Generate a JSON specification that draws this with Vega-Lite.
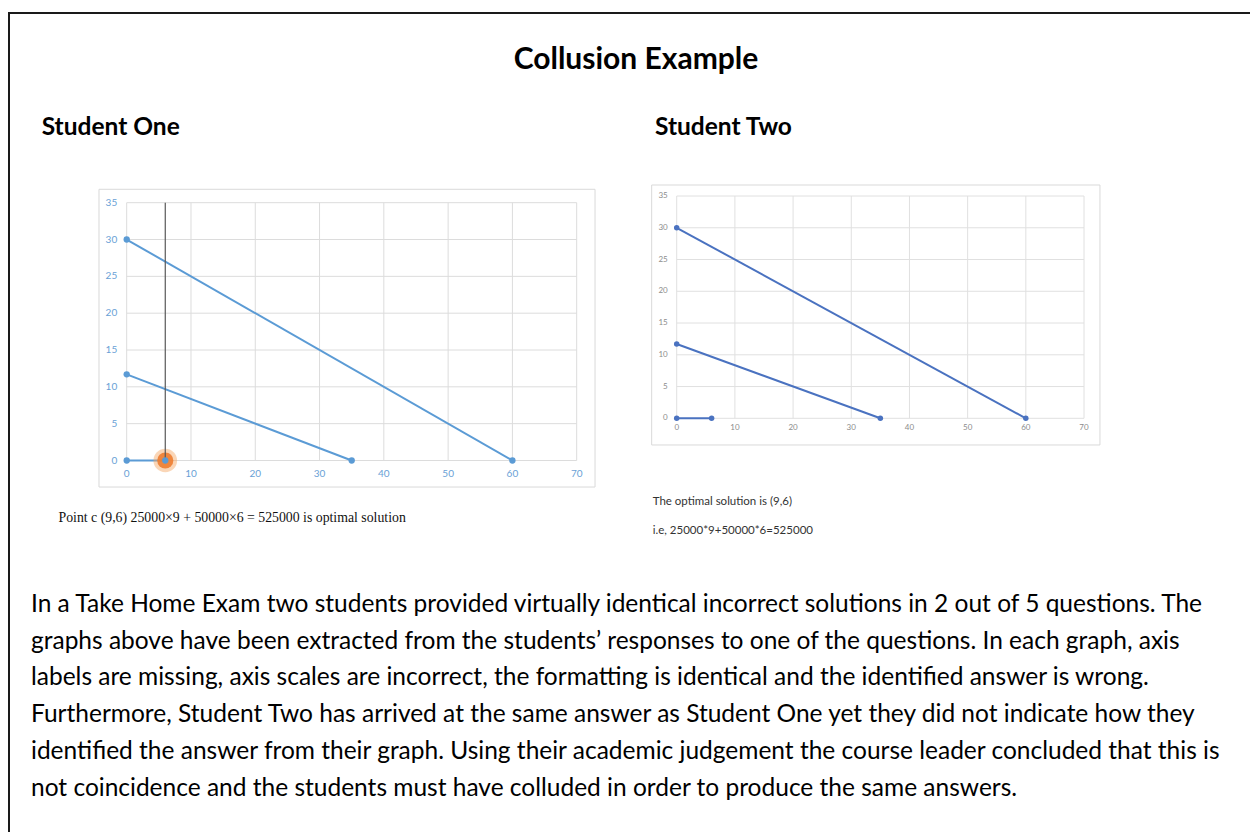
{
  "$schema": "https://vega.github.io/schema/vega-lite/v6.json",
  "width": 1244,
  "height": 822,
  "autosize": {"type": "none"},
  "padding": {"left": 9, "top": 13, "right": -3, "bottom": -3},
  "background": "white",
  "config": {"view": {"stroke": "#1a1a1a", "strokeWidth": 2}, "font": "Lato"},
  "datasets": {
    "s1": [
      {"series": "A", "x": 0, "y": 30}, {"series": "A", "x": 60, "y": 0},
      {"series": "B", "x": 0, "y": 11.7}, {"series": "B", "x": 35, "y": 0},
      {"series": "C", "x": 0, "y": 0}, {"series": "C", "x": 6, "y": 0}
    ],
    "s2": [
      {"series": "A", "x": 0, "y": 30}, {"series": "A", "x": 60, "y": 0},
      {"series": "B", "x": 0, "y": 11.7}, {"series": "B", "x": 35, "y": 0},
      {"series": "C", "x": 0, "y": 0}, {"series": "C", "x": 6, "y": 0}
    ],
    "xticks": [{"v": 0}, {"v": 10}, {"v": 20}, {"v": 30}, {"v": 40}, {"v": 50}, {"v": 60}, {"v": 70}],
    "yticks": [{"v": 0}, {"v": 5}, {"v": 10}, {"v": 15}, {"v": 20}, {"v": 25}, {"v": 30}, {"v": 35}],
    "marker": [{"x": 6, "y": 0}],
    "para": [
      {"line": 1, "text": "In a Take Home Exam two students provided virtually identical incorrect solutions in 2 out of 5 questions. The"},
      {"line": 2, "text": "graphs above have been extracted from the students’ responses to one of the questions.  In each graph, axis"},
      {"line": 3, "text": "labels are missing, axis scales are incorrect, the formatting is identical and the identified answer is wrong."},
      {"line": 4, "text": "Furthermore, Student Two has arrived at the same answer as Student One yet they did not indicate how they"},
      {"line": 5, "text": "identified the answer from their graph. Using their academic judgement the course leader concluded that this is"},
      {"line": 6, "text": "not coincidence and the students must have colluded in order to produce the same answers."}
    ]
  },
  "layer": [
    {
      "layer": [
        {
          "data": {"values": [{"part": "chart area"}]},
          "mark": {"type": "rect", "fill": "white", "stroke": "#d9d9d9", "strokeWidth": 1},
          "encoding": {
            "x": {"datum": -4.31, "type": "quantitative", "scale": {"domain": [0, 70], "range": [117.7, 567.7], "nice": false, "zero": false}, "axis": null},
            "x2": {"datum": 72.85},
            "y": {"datum": -3.6, "type": "quantitative", "scale": {"domain": [0, 35], "range": [447.5, 189.7], "nice": false, "zero": false}, "axis": null},
            "y2": {"datum": 36.82}
          }
        },
        {
          "data": {"name": "xticks"},
          "mark": {"type": "rule", "color": "#dcdcdc", "strokeWidth": 1},
          "encoding": {
            "x": {"field": "v", "type": "quantitative", "axis": null},
            "y": {"datum": 0, "type": "quantitative", "axis": null},
            "y2": {"datum": 35}
          }
        },
        {
          "data": {"name": "yticks"},
          "mark": {"type": "rule", "color": "#dcdcdc", "strokeWidth": 1},
          "encoding": {
            "y": {"field": "v", "type": "quantitative", "axis": null},
            "x": {"datum": 0, "type": "quantitative", "axis": null},
            "x2": {"datum": 70}
          }
        },
        {
          "data": {"name": "xticks"},
          "mark": {"type": "text", "color": "#6a9fd6", "fontSize": 10, "dy": 13.5, "baseline": "middle", "align": "center"},
          "encoding": {
            "x": {"field": "v", "type": "quantitative", "axis": null},
            "y": {"datum": 0, "type": "quantitative", "axis": null},
            "text": {"field": "v", "type": "quantitative"}
          }
        },
        {
          "data": {"name": "yticks"},
          "mark": {"type": "text", "color": "#6a9fd6", "fontSize": 10, "dx": -9.5, "baseline": "middle", "align": "right"},
          "encoding": {
            "y": {"field": "v", "type": "quantitative", "axis": null},
            "x": {"datum": 0, "type": "quantitative", "axis": null},
            "text": {"field": "v", "type": "quantitative"}
          }
        },
        {
          "data": {"name": "s1"},
          "mark": {"type": "line", "color": "#5b9bd5", "strokeWidth": 2},
          "encoding": {
            "x": {"field": "x", "type": "quantitative", "axis": null},
            "y": {"field": "y", "type": "quantitative", "axis": null},
            "detail": {"field": "series"}
          }
        },
        {
          "data": {"name": "marker"},
          "mark": {"type": "circle", "color": "#f4a460", "opacity": 0.45, "size": 560},
          "encoding": {
            "x": {"field": "x", "type": "quantitative", "axis": null},
            "y": {"field": "y", "type": "quantitative", "axis": null}
          }
        },
        {
          "data": {"name": "marker"},
          "mark": {"type": "circle", "color": "#ed7d31", "opacity": 0.9, "size": 260},
          "encoding": {
            "x": {"field": "x", "type": "quantitative", "axis": null},
            "y": {"field": "y", "type": "quantitative", "axis": null}
          }
        },
        {
          "data": {"name": "marker"},
          "mark": {"type": "rule", "color": "#595959", "strokeWidth": 1.2},
          "encoding": {
            "x": {"field": "x", "type": "quantitative", "axis": null},
            "y": {"datum": 0, "type": "quantitative", "axis": null},
            "y2": {"datum": 35}
          }
        },
        {
          "data": {"name": "s1"},
          "mark": {"type": "circle", "color": "#5b9bd5", "opacity": 1, "size": 40},
          "encoding": {
            "x": {"field": "x", "type": "quantitative", "axis": null},
            "y": {"field": "y", "type": "quantitative", "axis": null}
          }
        }
      ]
    },
    {
      "layer": [
        {
          "data": {"values": [{"part": "chart area"}]},
          "mark": {"type": "rect", "fill": "white", "stroke": "#d9d9d9", "strokeWidth": 1},
          "encoding": {
            "x": {"datum": -4.3, "type": "quantitative", "scale": {"domain": [0, 70], "range": [667.7, 1075], "nice": false, "zero": false}, "axis": null},
            "x2": {"datum": 72.74},
            "y": {"datum": -4.2, "type": "quantitative", "scale": {"domain": [0, 35], "range": [405.3, 183], "nice": false, "zero": false}, "axis": null},
            "y2": {"datum": 36.73}
          }
        },
        {
          "data": {"name": "xticks"},
          "mark": {"type": "rule", "color": "#e0e0e0", "strokeWidth": 1},
          "encoding": {
            "x": {"field": "v", "type": "quantitative", "axis": null},
            "y": {"datum": 0, "type": "quantitative", "axis": null},
            "y2": {"datum": 35}
          }
        },
        {
          "data": {"name": "yticks"},
          "mark": {"type": "rule", "color": "#e0e0e0", "strokeWidth": 1},
          "encoding": {
            "y": {"field": "v", "type": "quantitative", "axis": null},
            "x": {"datum": 0, "type": "quantitative", "axis": null},
            "x2": {"datum": 70}
          }
        },
        {
          "data": {"name": "xticks"},
          "mark": {"type": "text", "color": "#8c8c8c", "fontSize": 8, "dy": 10, "baseline": "middle", "align": "center"},
          "encoding": {
            "x": {"field": "v", "type": "quantitative", "axis": null},
            "y": {"datum": 0, "type": "quantitative", "axis": null},
            "text": {"field": "v", "type": "quantitative"}
          }
        },
        {
          "data": {"name": "yticks"},
          "mark": {"type": "text", "color": "#8c8c8c", "fontSize": 8, "dx": -9, "baseline": "middle", "align": "right"},
          "encoding": {
            "y": {"field": "v", "type": "quantitative", "axis": null},
            "x": {"datum": 0, "type": "quantitative", "axis": null},
            "text": {"field": "v", "type": "quantitative"}
          }
        },
        {
          "data": {"name": "s2"},
          "mark": {"type": "line", "color": "#4a72c0", "strokeWidth": 2},
          "encoding": {
            "x": {"field": "x", "type": "quantitative", "axis": null},
            "y": {"field": "y", "type": "quantitative", "axis": null},
            "detail": {"field": "series"}
          }
        },
        {
          "data": {"name": "s2"},
          "mark": {"type": "circle", "color": "#4a72c0", "opacity": 1, "size": 30},
          "encoding": {
            "x": {"field": "x", "type": "quantitative", "axis": null},
            "y": {"field": "y", "type": "quantitative", "axis": null}
          }
        }
      ]
    },
    {
      "layer": [
        {
          "data": {"values": [{"t": "Collusion Example"}]},
          "mark": {"type": "text", "font": "Lato", "fontSize": 30, "fontWeight": "bold", "color": "#000", "align": "center", "baseline": "alphabetic"},
          "encoding": {"text": {"field": "t"}, "x": {"value": 627}, "y": {"value": 56}}
        },
        {
          "data": {"values": [{"t": "Student One"}]},
          "mark": {"type": "text", "font": "Lato", "fontSize": 24.5, "fontWeight": "bold", "color": "#000", "align": "left", "baseline": "alphabetic"},
          "encoding": {"text": {"field": "t"}, "x": {"value": 32.7}, "y": {"value": 122}}
        },
        {
          "data": {"values": [{"t": "Student Two"}]},
          "mark": {"type": "text", "font": "Lato", "fontSize": 24.5, "fontWeight": "bold", "color": "#000", "align": "left", "baseline": "alphabetic"},
          "encoding": {"text": {"field": "t"}, "x": {"value": 646}, "y": {"value": 122}}
        },
        {
          "data": {"values": [{"t": "Point c (9,6) 25000×9 + 50000×6 = 525000 is optimal solution"}]},
          "mark": {"type": "text", "font": "Liberation Serif", "fontSize": 13.8, "color": "#111", "align": "left", "baseline": "middle"},
          "encoding": {"text": {"field": "t"}, "x": {"value": 49.5}, "y": {"value": 505}}
        },
        {
          "data": {"values": [{"t": "The optimal solution is (9,6)"}]},
          "mark": {"type": "text", "font": "Lato", "fontSize": 11.5, "color": "#333", "align": "left", "baseline": "middle"},
          "encoding": {"text": {"field": "t"}, "x": {"value": 643.7}, "y": {"value": 488.7}}
        },
        {
          "data": {"values": [{"t": "i.e, 25000*9+50000*6=525000"}]},
          "mark": {"type": "text", "font": "Lato", "fontSize": 11.5, "color": "#333", "align": "left", "baseline": "middle"},
          "encoding": {"text": {"field": "t"}, "x": {"value": 643.7}, "y": {"value": 518}}
        },
        {
          "data": {"name": "para"},
          "mark": {"type": "text", "font": "Lato", "fontSize": 24.5, "color": "#000", "align": "left", "baseline": "alphabetic"},
          "encoding": {
            "text": {"field": "text"},
            "x": {"value": 22},
            "y": {"field": "line", "type": "quantitative", "scale": {"domain": [1, 6], "range": [599, 782.5], "nice": false, "zero": false}, "axis": null}
          }
        }
      ]
    }
  ],
  "resolve": {"scale": {"x": "independent", "y": "independent"}}
}
